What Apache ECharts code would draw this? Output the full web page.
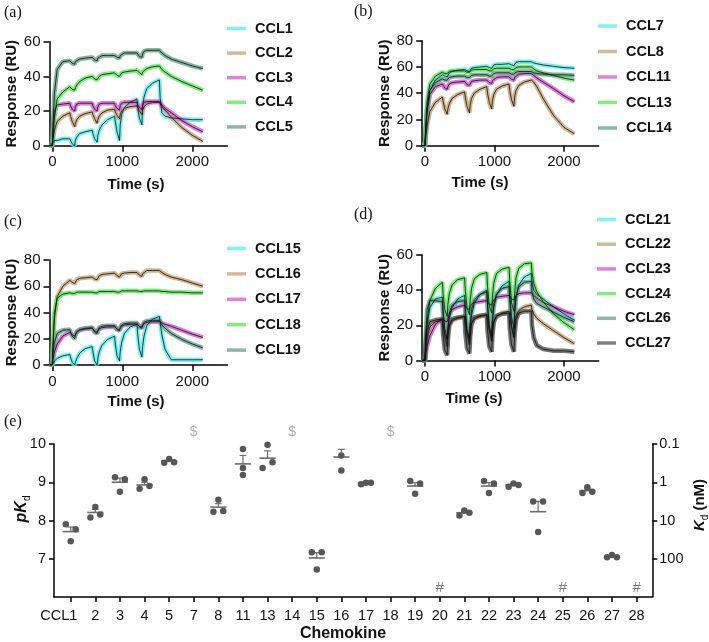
<!DOCTYPE html>
<html><head><meta charset="utf-8">
<script src="https://cdn.jsdelivr.net/npm/echarts@6/dist/echarts.min.js"></script>
<style>html,body{margin:0;padding:0;background:#fff}#c{width:709px;height:642px}</style>
</head><body><div id="c"></div>
<script>
// ---------- sensorgram time base (s) ----------
const timeSec = [-40,0,10,30,70,150,250,260,285,
 320,330,350,390,470,570,580,605,
 640,650,670,710,790,890,900,925,
 960,970,990,1030,1110,1210,1220,1245,
 1280,1290,1310,1350,1430,1530,1540,1565,1610,1700,1850,2000,2150];

// ---------- panel (a) ----------
const namesA = ['CCL1','CCL2','CCL3','CCL4','CCL5'];
const ccl1 = [1,1,2,3,3,4,4,3,1, 0,3,5,7,8,9,7,4, 2,6,9,12,15,17,14,8, 3,12,18,22,25,27,22,16, 12,22,28,33,36,38,28,19,17,16,15.5,15,15];
const ccl2 = [0,0,4,9,14,17,19,17,14, 11,13,15,17,18.5,19.5,18,15.5, 13,15,17,19,20.5,21,19.5,17.5, 15.5,18,20,21.5,22.5,23,22,20, 18,20.5,22.5,24,25,25,24,22.5,20.5,16.5,10.5,6,2.5];
const ccl3 = [0,0,10,20,23.5,24,24.5,23,21, 20,22.5,24,24.5,24.5,24.5,23,21, 20,22.5,24,24.5,24.5,24.5,23,21.5, 20.5,23,24.5,25,25,25,23.5,22, 21,23.5,25,25.5,25.5,25.5,24.5,23.5,21.5,19,14.5,11,8];
const ccl4 = [0,0,5,16,27,31,34,33.5,32.5, 32,33.5,35,37,39,40,39.5,38.5, 38,39,40,41,41.5,42,41.5,40.5, 40,41,42,42.5,43,43.5,43,42, 41,42.5,43.5,44.5,45.5,46,45,44,42.5,40,37,34.5,32];
const ccl5 = [0,0,12,30,44,48.5,49,48.5,47.5, 47,48.5,49.5,50,50.5,51,50.5,49.5, 49,50.5,51.5,52,52,52,51.5,51, 50.5,52,53,53.5,53.5,53.5,53,51.5, 51,53,54.5,55,55,55,54.5,53.5,52,50,48,46,44.5];

// ---------- panel (b) ----------
const namesB = ['CCL7','CCL8','CCL11','CCL13','CCL14'];
const ccl7 = [0,0,12,28,42,50,54,53.5,53, 52.5,54,55.5,56.5,57.5,58,57.5,57, 56.5,58,59,59.5,60,60.5,60,59.5, 59,60.5,61.5,62,62,62.5,62,61.5, 61,62.5,63.5,64,64,64,63.5,63,62.5,61.5,60.5,59.5,59];
const ccl8 = [0,0,6,15,26,33,37,34,28, 24,28,32,36,39,41,37,30, 25,31,36,40,43,45,40,33, 28,34,39,43,45.5,47,42,35, 30,37,42,46,48.5,50,49,48.5,45,36,23,14,9];
const ccl11 = [0,0,10,25,39,45,47,46,44, 43,45,47,48,48.5,49,48,46.5, 46,47.5,49,49.5,50,50,49,48, 47.5,49.5,51,52,52.5,52.5,51.5,50.5, 50,52,53.5,54.5,55,55,54.5,53.5,51.5,48.5,43.5,38,33.5];
const ccl13 = [0,0,14,33,47,53,56,55.5,55, 55,56,56.5,57,57,57,56.5,56, 56,57,57.5,58,58,58,57.5,57, 57,58,58.5,59,59,59,58.5,58, 58,59,59.5,60,60,60,59.5,58.5,57,55.5,53.5,51.5,50];
const ccl14 = [0,0,11,27,42,48,51,50.5,50, 50,51,52,52.5,53,53,52.5,52, 52,53,53.5,54,54,54,53.5,53, 53,54,55,55.5,55.5,55.5,55,54.5, 54.5,55.5,56,56.5,56.5,56.5,56,55.5,55,54.5,54,54,53.5];

// ---------- panel (c) ----------
const namesC = ['CCL15','CCL16','CCL17','CCL18','CCL19'];
const ccl15 = [1,0,1,3,5,7,8,6,2, 0,2,5,9,12.5,14,10,3, 0,5,10,15,19.5,22,16,7, 3,10,17,24,29,31,23,12, 6,14,22,30,35,37,33,23,12,4,4,4,4];
const ccl16 = [0,0,14,35,52,60,64.5,64,63, 62,63.5,65,66,66.5,67,66.5,65.5, 65,66.5,68,69,69.5,70,69.5,68, 67,68.5,69.5,70,70.5,70.5,70,68.5, 67.5,69.5,71,72,72,72,71.5,70.5,69,67,65,62.5,60];
const ccl17 = [0,0,4,10,16,22,25,24.5,23, 22,23.5,25,26.5,27.5,28,27.5,26, 25,26.5,27.5,28.5,29,29,28.5,27.5, 27,28.5,29.5,30.5,31,31,30.5,29.5, 29,30.5,31.5,32.5,33,33,32.5,32,31,29.5,26.5,23.5,21];
const ccl18 = [0,0,17,40,51,54,55,55,54.5, 54.5,55,55.5,55.5,55.5,55.5,55.5,55, 55,55.5,56,56,56,56,56,55.5, 55.5,56,56.5,56.5,56.5,56.5,56.5,56, 56,56.5,56.5,56.5,56.5,56.5,56.5,56,56,55.5,55.5,55,55];
const ccl19 = [0,0,8,17,24,26.5,27,25,22, 20,23,25.5,27,28,28.5,27,25, 24,26.5,28.5,29.5,30,30,28.5,27, 26,28.5,30.5,31.5,32,32,30.5,29, 28,30.5,32.5,33.5,34,34,32.5,30.5,28,24,19.5,16,13];

// ---------- panel (d) ----------
const namesD = ['CCL21','CCL22','CCL23','CCL24','CCL26','CCL27'];
const ccl21 = [1,0,9,20,30,35,36,29,18, 12,18,24,30,35,37,30,18, 12,19,26,32.5,37.5,40,32,20, 14,22,30,37,42.5,45,37,25, 18,27,36,43,47.5,49.5,44,40,37.5,35,30.5,26.5,23];
const ccl22 = [0,0,6,13,19,22,23,20,15, 12,16,20,22.5,24,25,22,16.5, 12,17,21,23.5,25,26,23,17.5, 13,18,22,25,27,28,25,19, 14,20,25,28.5,30.5,31.5,29,26.5,24,21,17,13,9.5];
const ccl23 = [0,0,3,8,14,20.5,24,23.5,22.5, 22,24,26.5,29,30.5,31.5,30.5,29.5, 29,30.5,32,33,33.5,34,33,32, 31.5,33,34.5,36,36.5,37,36,35, 34.5,35.5,37,38,38.5,38.5,38,37,35.5,33,30.5,28,26];
const ccl24 = [0,0,10,22,34,41,44.5,38,29, 25,32,38,43,46,47,40,30, 26,34,41,46.5,49,50,42,31, 27,36,44,49.5,52,53,45,33, 28,38,47,52.5,55,55.5,50,44,39,33.5,26.5,21.5,17.5];
const ccl26 = [0,0,14,29,34,34,33.5,26,14, 8,18,27,31.5,33.5,34,26,15, 9,20,29,34.5,37.5,39,31,18, 11,23,32,38,41,42,34,20, 13,26,36,42,44.5,45,39,35,32.5,30.5,27.5,24.5,22];
const ccl27 = [0,0,8,17,22,23,23.5,15,6, 3,12,20,23.5,24.5,25,16,7, 4,13,21,24.5,25.5,26,17,8, 5,14,22,25.5,26.5,27,18,9, 5,15,23,27,28,28,20,13,8.5,6.5,5.5,5.5,5];

// ---------- panel (e) ----------
const chemokines = ['CCL1','2','3','4','5','7','8','11','13','14','15','16','17','18','19','20','21','22','23','24','25','26','27','28'];
const pKdReps = [[7.90,7.46,7.77],[8.08,8.35,8.16],[9.13,8.75,9.08],[8.83,9.08,8.90],[9.51,9.61,9.52],null,
 [8.23,8.54,8.25],[9.87,9.37,9.19],[9.37,9.98,9.52],null,[7.17,6.72,7.17],[9.70,null,9.31],
 [8.95,8.99,8.99],null,[9.03,8.70,8.97],null,[8.13,8.26,8.20],[9.03,8.72,8.97],
 [8.88,8.97,8.93],[8.50,7.70,8.50],null,[8.72,8.87,8.75],[7.04,7.10,7.04],null];
const pKdMean = [7.71,8.21,9.00,8.93,9.55,null,8.35,9.48,9.63,null,7.02,9.66,8.98,null,8.90,null,8.20,8.90,8.93,8.23,null,8.78,7.06,null];
const pKdSem  = [0.12,0.08,0.11,0.07,0.03,null,0.09,0.22,0.19,null,0.14,0.20,0.01,null,0.09,null,0.04,0.09,0.03,0.27,null,0.05,0.02,null];
const dollarCats = ['7','14','18'];
const hashCats = ['20','25','28'];

// ---------- build ----------
const FONT = 'Liberation Sans';
const COL = {cyan:'#55eeee', brown:'#c6a176', magenta:'#d655d6', green:'#55ea55', teal:'#63a287', gray:'#555555'};
const pair = v => timeSec.map((t,i)=>[t, v[i]]);

const panels = [
 {names:namesA, data:[ccl1,ccl2,ccl3,ccl4,ccl5], cols:['cyan','brown','magenta','green','teal'], ymax:60,
  grid:{left:49.5, top:41.7, width:177.8, height:104}, lg:{left:227, c0:28.5, sp:24.6}},
 {names:namesB, data:[ccl7,ccl8,ccl11,ccl13,ccl14], cols:['cyan','brown','magenta','green','teal'], ymax:80,
  grid:{left:422.2, top:40.7, width:176.5, height:105}, lg:{left:598, c0:26, sp:25.5}},
 {names:namesC, data:[ccl15,ccl16,ccl17,ccl18,ccl19], cols:['cyan','brown','magenta','green','teal'], ymax:80,
  grid:{left:49.5, top:260, width:177.8, height:105}, lg:{left:227, c0:248.5, sp:25.4}},
 {names:namesD, data:[ccl21,ccl22,ccl23,ccl24,ccl26,ccl27], cols:['cyan','brown','magenta','green','teal','gray'], ymax:60,
  grid:{left:422.2, top:255, width:176.5, height:105.5}, lg:{left:597, c0:219.5, sp:24.7}}
];

const grids=[], xAxes=[], yAxes=[], series=[], legends=[];
const axisLineS = {show:true, onZero:false, lineStyle:{color:'#000', width:1.5}};
const tickS = {show:true, length:6, lineStyle:{color:'#000', width:1.5}};
panels.forEach((p, gi) => {
  grids.push(p.grid);
  xAxes.push({type:'value', gridIndex:gi, min:-40, max:2500,
    axisLine:{show:true, lineStyle:{color:'#000', width:1.5}},
    axisTick:Object.assign({customValues:[0,1000,2000]}, tickS),
    axisLabel:{customValues:[0,1000,2000], formatter:v=>String(v), fontSize:15, color:'#111', fontFamily:FONT, margin:9},
    splitLine:{show:false}});
  yAxes.push({type:'value', gridIndex:gi, min:0, max:p.ymax, interval:20,
    axisLine:axisLineS, axisTick:tickS,
    axisLabel:{fontSize:15, color:'#111', fontFamily:FONT, margin:9},
    splitLine:{show:false}});
  p.names.forEach((n, k) => {
    series.push({type:'line', name:n, xAxisIndex:gi, yAxisIndex:gi, data:pair(p.data[k]),
      showSymbol:false, symbol:'none', color:COL[p.cols[k]], z:2,
      lineStyle:{width:4.5, color:COL[p.cols[k]], opacity:0.8}, silent:true, animation:false});
  });
  p.names.forEach((n, k) => {
    series.push({type:'line', name:'fit '+n, xAxisIndex:gi, yAxisIndex:gi, data:pair(p.data[k]),
      showSymbol:false, symbol:'none', z:3,
      lineStyle:{width:0.9, color:'#111', opacity:0.9}, silent:true, animation:false});
  });
  const lh = 18;
  legends.push({data:p.names, orient:'vertical', left:p.lg.left, top:p.lg.c0 - lh/2, padding:0,
    itemGap:p.lg.sp - lh, itemWidth:19, itemHeight:3.5, icon:'rect', selectedMode:false,
    itemStyle:{opacity:0.75},
    textStyle:{fontSize:14.5, fontWeight:'bold', fontFamily:FONT, color:'#111', lineHeight:lh, padding:[0,0,0,4]}});
});

// panel (e)
const eg = 4;
grids.push({left:54, top:444, width:598.3, height:153});
xAxes.push({type:'value', gridIndex:eg, min:-0.68, max:23.64,
  axisLine:{show:true, lineStyle:{color:'#000', width:1.5}},
  axisTick:{show:true, length:5, customValues:chemokines.map((c,i)=>i), lineStyle:{color:'#000', width:1.5}},
  axisLabel:{customValues:chemokines.map((c,i)=>i),
    formatter:v=>{const i=Math.round(v); return i===0 ? '{f|'+chemokines[i]+'}' : chemokines[i];},
    rich:{f:{fontSize:14.5, color:'#111', fontFamily:FONT, padding:[0,24,0,0]}},
    fontSize:14.5, color:'#111', fontFamily:FONT, margin:11},
  splitLine:{show:false}});
yAxes.push({type:'value', gridIndex:eg, min:6, max:10,
  axisLine:axisLineS, axisTick:{show:true, length:5, customValues:[7,8,9,10], lineStyle:{color:'#000', width:1.5}},
  axisLabel:{customValues:[7,8,9,10], fontSize:14.5, color:'#111', fontFamily:FONT, margin:8},
  splitLine:{show:false}});
yAxes.push({type:'value', gridIndex:eg, min:6, max:10, position:'right',
  axisLine:axisLineS, axisTick:{show:true, length:5, customValues:[7,8,9,10], lineStyle:{color:'#000', width:1.5}},
  axisLabel:{customValues:[7,8,9,10], formatter:v=>String(+Math.pow(10, 9 - v).toPrecision(1)), fontSize:14.5, color:'#111', fontFamily:FONT, margin:7},
  splitLine:{show:false}});

const slot = [-0.2, 0, 0.2];
const pts = [];
pKdReps.forEach((reps, ci) => {
  if (!reps) return;
  reps.forEach((v, k) => {
    if (v == null) return;
    const crowded = reps.some((w, j) => j !== k && w != null && Math.abs(w - v) < 0.16);
    pts.push([ci + (crowded ? slot[k] : 0), v]);
  });
});
const meanData = [];
pKdMean.forEach((m, ci) => { if (m != null) meanData.push([ci, m, pKdSem[ci]]); });

series.push({type:'custom', xAxisIndex:4, yAxisIndex:4, data:meanData, z:2, silent:true, animation:false,
  renderItem:(params, api) => {
    const x = api.value(0), m = api.value(1), s = api.value(2);
    const a = api.coord([x - 0.33, m]), b = api.coord([x + 0.33, m]);
    const c = api.coord([x, m]), t = api.coord([x, m + s]);
    const st = {stroke:'#6c6c6c', lineWidth:1.6};
    return {type:'group', children:[
      {type:'line', shape:{x1:a[0], y1:a[1], x2:b[0], y2:b[1]}, style:st},
      {type:'line', shape:{x1:c[0], y1:c[1], x2:t[0], y2:t[1]}, style:{stroke:'#6c6c6c', lineWidth:1.2}},
      {type:'line', shape:{x1:t[0]-3.3, y1:t[1], x2:t[0]+3.3, y2:t[1]}, style:{stroke:'#6c6c6c', lineWidth:1.2}}
    ]};
  }});
series.push({type:'scatter', xAxisIndex:4, yAxisIndex:4, data:pts, symbolSize:6.5, z:3, silent:true, animation:false,
  itemStyle:{color:'#575757', opacity:1}});
series.push({type:'scatter', xAxisIndex:4, yAxisIndex:4, clip:false, symbolSize:2, silent:true, animation:false,
  itemStyle:{color:'rgba(0,0,0,0)'},
  data:dollarCats.map(c => [chemokines.indexOf(c), 10.3]),
  label:{show:true, position:'inside', formatter:'$', fontSize:14, color:'#999999', fontFamily:FONT}});
series.push({type:'scatter', xAxisIndex:4, yAxisIndex:4, clip:false, symbolSize:2, silent:true, animation:false,
  itemStyle:{color:'rgba(0,0,0,0)'},
  data:hashCats.map(c => [chemokines.indexOf(c), 6.25]),
  label:{show:true, position:'inside', formatter:'#', fontSize:15, color:'#555555', fontFamily:FONT}});

// text
const T = (text, x, y, o) => Object.assign({type:'text', x, y, silent:true,
  style:Object.assign({text, align:'center', verticalAlign:'middle', fill:'#111', font:'bold 15px "Liberation Sans"'}, (o&&o.style)||{})},
  o && o.rotation ? {rotation:o.rotation} : {});
const R90 = Math.PI/2;
const graphics = [
  T('(a)', 4, 13, {style:{align:'left', font:'16px "Liberation Serif"'}}),
  T('(b)', 354, 12, {style:{align:'left', font:'16px "Liberation Serif"'}}),
  T('(c)', 4, 222, {style:{align:'left', font:'16px "Liberation Serif"'}}),
  T('(d)', 354, 215, {style:{align:'left', font:'16px "Liberation Serif"'}}),
  T('(e)', 4, 422, {style:{align:'left', font:'16px "Liberation Serif"'}}),
  T('Response (RU)', 12, 93.7, {rotation:R90}),
  T('Response (RU)', 384.5, 93.2, {rotation:R90}),
  T('Response (RU)', 12, 312.5, {rotation:R90}),
  T('Response (RU)', 384.5, 307.7, {rotation:R90}),
  T('Time (s)', 136, 185),
  T('Time (s)', 480, 183.3),
  T('Time (s)', 136, 401.7),
  T('Time (s)', 474, 399.3),
  T('Chemokine', 343, 634, {style:{font:'bold 16px "Liberation Sans"'}}),
  {type:'text', x:22, y:509, rotation:R90, silent:true, style:{text:'{a|pK}{b|d}', align:'center', verticalAlign:'middle',
    rich:{a:{fontSize:16, fontWeight:'bold', fontStyle:'italic', fontFamily:FONT, lineHeight:20, fill:'#111'},
          b:{fontSize:10, fontFamily:FONT, lineHeight:10, verticalAlign:'bottom', fill:'#111'}}}},
  {type:'text', x:700, y:505, rotation:R90, silent:true, style:{text:'{a|K}{b|d}{c| (nM)}', align:'center', verticalAlign:'middle',
    rich:{a:{fontSize:15, fontWeight:'bold', fontStyle:'italic', fontFamily:FONT, lineHeight:20, fill:'#111'},
          b:{fontSize:10, fontFamily:FONT, lineHeight:10, verticalAlign:'bottom', fill:'#111'},
          c:{fontSize:15, fontWeight:'bold', fontFamily:FONT, lineHeight:20, fill:'#111'}}}}
];

const chart = echarts.init(document.getElementById('c'), null, {renderer:'canvas'});
chart.setOption({animation:false, backgroundColor:'#fff', grid:grids, xAxis:xAxes, yAxis:yAxes,
  legend:legends, series:series, graphic:graphics, tooltip:{show:false}});
</script></body></html>
